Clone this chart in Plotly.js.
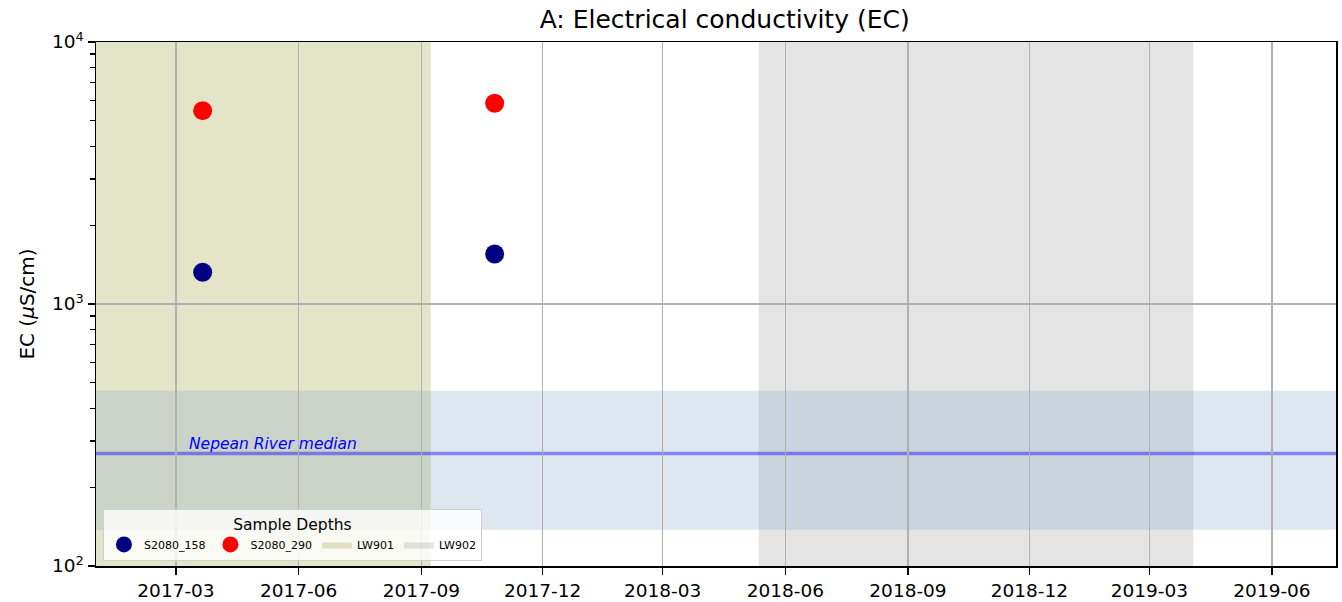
<!DOCTYPE html>
<html>
<head>
<meta charset="utf-8">
<script src="https://cdn.plot.ly/plotly-3.0.1.min.js"></script>
<style>html,body{margin:0;padding:0;background:#fff;}#chart{width:1342px;height:602px;}</style>
</head>
<body>
<div id="chart"></div>
<script>
// ---- data ----
const sampleDates = ['2017-03-21', '2017-10-26'];
const s158Values = [1322, 1553];
const s290Values = [5470, 5840];
const seriesNames = ['S2080_158', 'S2080_290'];
const seriesColors = ['#000080', '#ff0000'];

const periodNames = ['LW901', 'LW902'];
const periodStart = ['2016-11-01', '2018-05-12'];
const periodEnd = ['2017-09-08', '2019-04-03'];
const periodColors = ['rgba(128,128,0,0.21)', 'rgba(128,128,128,0.21)'];

const riverMedian = 269;
const riverLow = 137.6;
const riverHigh = 467;
const riverLabel = 'Nepean River median';

const xRange = ['2016-12-31', '2019-07-19'];
const yTickVals = [100, 1000, 10000];
const yTickText = ['10<sup>2</sup>', '10<sup>3</sup>', '10<sup>4</sup>'];
const yMinorVals = [200,300,400,500,600,700,800,900,2000,3000,4000,5000,6000,7000,8000,9000];

const font = 'DejaVu Sans, Liberation Sans, sans-serif';

const traces = [
  {x: sampleDates, y: s158Values, name: seriesNames[0], mode: 'markers', type: 'scatter',
   marker: {color: seriesColors[0], size: 19}},
  {x: sampleDates, y: s290Values, name: seriesNames[1], mode: 'markers', type: 'scatter',
   marker: {color: seriesColors[1], size: 19}},
  {x: [periodStart[0], periodStart[0], periodEnd[0], periodEnd[0]], y: [null,null,null,null],
   name: periodNames[0], mode: 'lines', fill: 'toself', fillcolor: periodColors[0],
   line: {width: 0, color: periodColors[0]}, type: 'scatter', hoverinfo: 'skip'},
  {x: [periodStart[1], periodStart[1], periodEnd[1], periodEnd[1]], y: [null,null,null,null],
   name: periodNames[1], mode: 'lines', fill: 'toself', fillcolor: periodColors[1],
   line: {width: 0, color: periodColors[1]}, type: 'scatter', hoverinfo: 'skip'}
];

const shapes = [];
for (let i = 0; i < periodNames.length; i++) {
  shapes.push({type: 'rect', xref: 'x', yref: 'paper', x0: periodStart[i], x1: periodEnd[i],
    y0: 0, y1: 1, fillcolor: periodColors[i], line: {width: 0}, layer: 'below'});
}
shapes.push({type: 'rect', xref: 'paper', yref: 'y', x0: 0, x1: 1, y0: riverLow, y1: riverHigh,
  fillcolor: 'rgba(143,168,203,0.29)', line: {width: 0}, layer: 'below'});
shapes.push({type: 'line', xref: 'paper', yref: 'y', x0: 0, x1: 1, y0: riverMedian, y1: riverMedian,
  line: {color: 'rgba(0,0,255,0.42)', width: 3.5}, layer: 'between'});

const layout = {
  width: 1342, height: 602,
  margin: {l: 96, r: 6, t: 42, b: 36},
  paper_bgcolor: '#fff', plot_bgcolor: '#fff',
  font: {family: font, color: '#000', size: 18},
  title: {text: 'A: Electrical conductivity (EC)', font: {size: 25, family: font}, x: 0.507, xref: 'paper', xanchor: 'center', y: 0.968, yanchor: 'middle'},
  showlegend: true,
  legend: {
    orientation: 'h', x: 0.0056, y: 0.01, xanchor: 'left', yanchor: 'bottom',
    bgcolor: 'rgba(255,255,255,0.8)', bordercolor: '#d0d0d0', borderwidth: 1,
    font: {size: 11, family: font},
    title: {text: 'Sample Depths', side: 'top center', font: {size: 15.5, family: font}},
    itemsizing: 'trace', tracegroupgap: 0
  },
  xaxis: {
    type: 'date', range: xRange, tick0: '2017-03-01', dtick: 'M3', tickformat: '%Y-%m',
    showgrid: true, gridcolor: '#b0b0b0', gridwidth: 1.5,
    showline: true, linecolor: '#000', linewidth: 1.5, mirror: true,
    ticks: 'outside', ticklen: 7, tickwidth: 1.5, tickcolor: '#000',
    tickfont: {size: 18.5, family: font}, zeroline: false
  },
  yaxis: {
    type: 'log', range: [2, 4], tickmode: 'array', tickvals: yTickVals, ticktext: yTickText,
    showgrid: true, gridcolor: '#b0b0b0', gridwidth: 1.5,
    showline: true, linecolor: '#000', linewidth: 1.5, mirror: true,
    ticks: 'outside', ticklen: 7, tickwidth: 1.5, tickcolor: '#000',
    tickfont: {size: 18.5, family: font}, zeroline: false,
    minor: {tickmode: 'array', tickvals: yMinorVals, ticks: 'outside', ticklen: 5, tickwidth: 1.2, tickcolor: '#000', showgrid: false},
    title: {text: 'EC (<i>μ</i>S/cm)', font: {size: 20, family: font}, standoff: 12}
  },
  shapes: shapes,
  annotations: [{
    xref: 'x', yref: 'y', x: '2017-03-09', y: Math.log10(riverMedian), text: '<i>' + riverLabel + '</i>',
    showarrow: false, xanchor: 'left', yanchor: 'bottom', yshift: -2,
    font: {size: 15.5, color: '#0000ff', family: font}
  }]
};

Plotly.newPlot('chart', traces, layout, {displayModeBar: false, staticPlot: true});
</script>
</body>
</html>
